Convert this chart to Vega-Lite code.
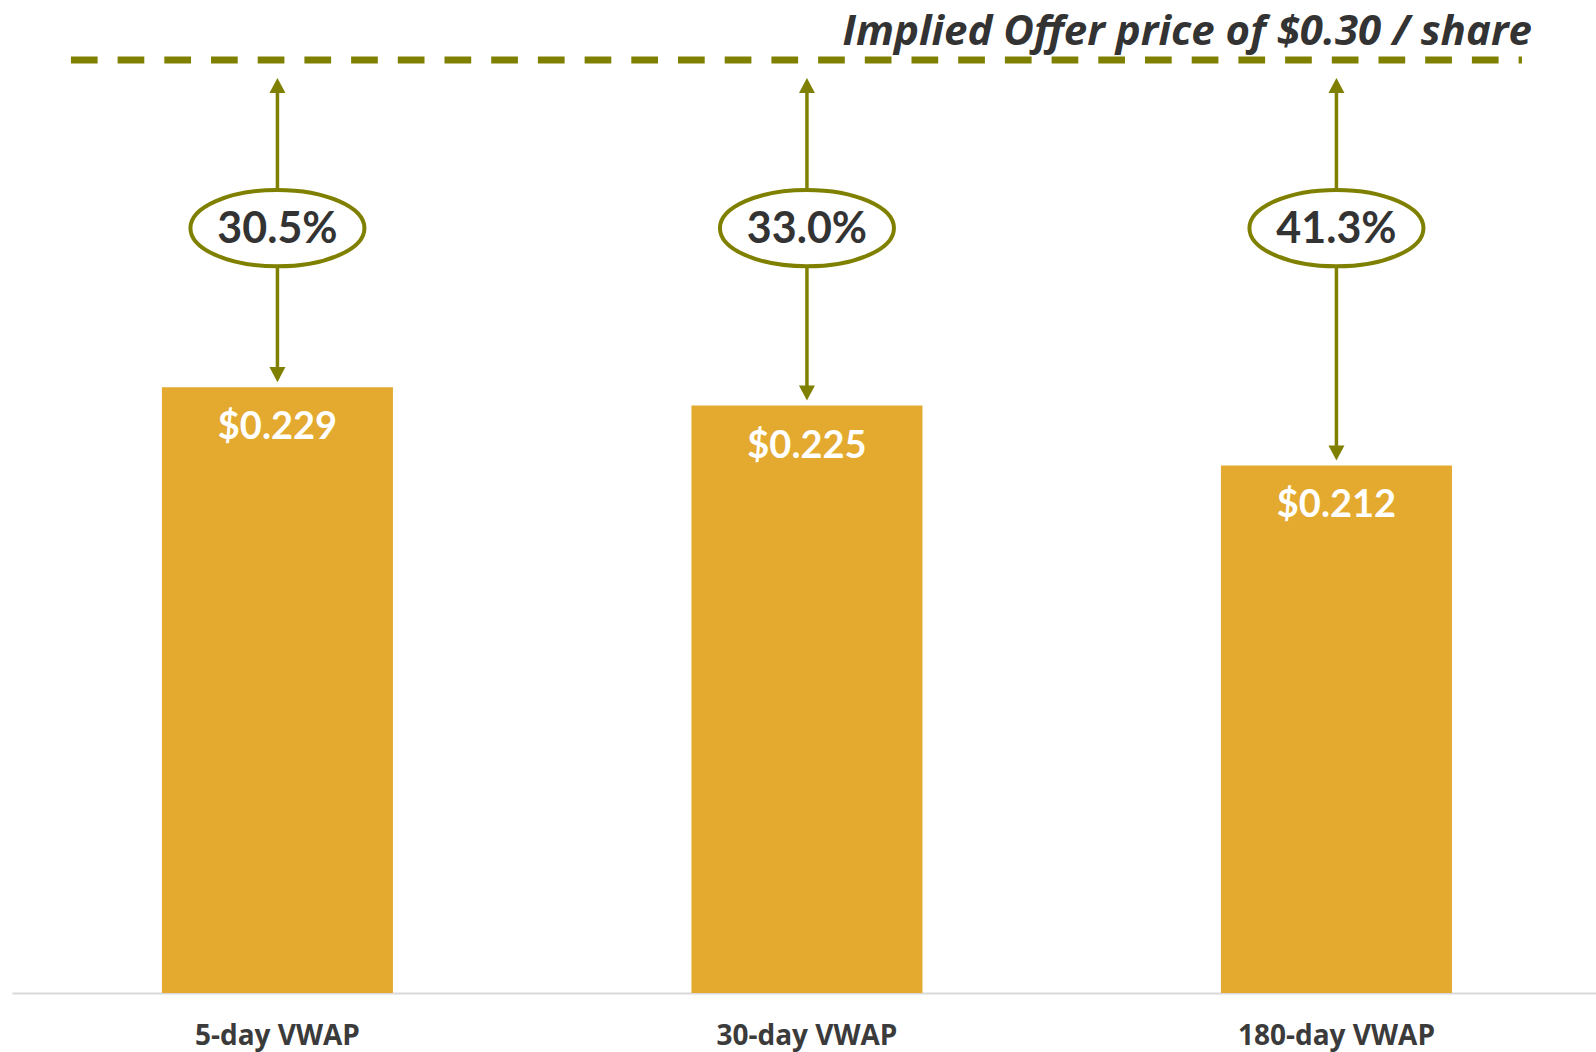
{
  "$schema": "https://vega.github.io/schema/vega-lite/v6.json",
  "width": 1584,
  "height": 933,
  "autosize": {"type": "none"},
  "padding": {"left": 12, "top": 60, "right": 0, "bottom": 59},
  "background": "white",
  "config": {"view": {"stroke": null}, "font": "Lato"},
  "title": {
    "text": "Implied Offer price of $0.30 / share",
    "anchor": "end",
    "frame": "group",
    "font": "Open Sans",
    "fontSize": 42,
    "fontStyle": "italic",
    "fontWeight": "bold",
    "color": "#333333",
    "baseline": "alphabetic",
    "offset": 18,
    "dy": 48,
    "dx": -64
  },
  "data": {
    "values": [
      {"period": "5-day VWAP", "vwap": 0.229, "premium": 0.305, "offer": 0.30},
      {"period": "30-day VWAP", "vwap": 0.225, "premium": 0.330, "offer": 0.30},
      {"period": "180-day VWAP", "vwap": 0.212, "premium": 0.413, "offer": 0.30}
    ]
  },
  "layer": [
    {
      "mark": {"type": "bar", "color": "#E3AA2F"},
      "encoding": {
        "x": {
          "field": "period", "type": "nominal", "sort": null,
          "scale": {"paddingInner": 0.5637, "paddingOuter": 0.2776, "align": 0.51},
          "axis": {
            "title": null, "ticks": false, "domainColor": "#D9D9D9", "domainWidth": 2,
            "labelFont": "Open Sans", "labelFontSize": 28, "labelFontWeight": "bold", "labelColor": "#3B3B3B",
            "labelBaseline": "alphabetic", "labelPadding": 51, "labelAngle": 0, "labelLimit": 0
          }
        },
        "y": {
          "field": "vwap", "type": "quantitative",
          "scale": {"domain": [0.0975, 0.30], "nice": false, "zero": false},
          "axis": null
        },
        "y2": {"datum": 0.0975}
      }
    },
    {
      "mark": {"type": "text", "color": "white", "font": "Lato", "fontSize": 38, "fontWeight": "bold", "baseline": "alphabetic", "align": "center", "dy": 52},
      "encoding": {
        "x": {"field": "period", "type": "nominal", "sort": null},
        "y": {"field": "vwap", "type": "quantitative"},
        "text": {"field": "vwap", "type": "quantitative", "format": "$.3f"}
      }
    },
    {
      "data": {"values": [{"offer": 0.30}]},
      "mark": {"type": "rule", "color": "#808000", "strokeWidth": 7, "strokeDash": [26.7, 20]},
      "encoding": {
        "x": {"datum": "5-day VWAP", "bandPosition": -0.394},
        "x2": {"datum": "180-day VWAP", "bandPosition": 1.303},
        "y": {"field": "offer", "type": "quantitative"}
      }
    },
    {
      "mark": {"type": "rule", "color": "#808000", "strokeWidth": 3.5, "yOffset": 26, "y2Offset": -12},
      "encoding": {
        "x": {"field": "period", "type": "nominal", "sort": null},
        "y": {"field": "offer", "type": "quantitative"},
        "y2": {"field": "vwap"}
      }
    },
    {
      "mark": {"type": "point", "shape": "M 0 0 L 0.5 0.94 L -0.5 0.94 Z", "size": 1024, "filled": true, "color": "#808000", "opacity": 1, "strokeWidth": 0, "yOffset": 18},
      "encoding": {
        "x": {"field": "period", "type": "nominal", "sort": null},
        "y": {"field": "offer", "type": "quantitative"}
      }
    },
    {
      "mark": {"type": "point", "shape": "M 0 0 L 0.5 -0.94 L -0.5 -0.94 Z", "size": 1024, "filled": true, "color": "#808000", "opacity": 1, "strokeWidth": 0, "yOffset": -5},
      "encoding": {
        "x": {"field": "period", "type": "nominal", "sort": null},
        "y": {"field": "vwap", "type": "quantitative"}
      }
    },
    {
      "mark": {"type": "point", "shape": "M -1 0 C -1 -0.2422 -0.5523 -0.4386 0 -0.4386 C 0.5523 -0.4386 1 -0.2422 1 0 C 1 0.2422 0.5523 0.4386 0 0.4386 C -0.5523 0.4386 -1 0.2422 -1 0 Z", "size": 30276, "filled": false, "fill": "white", "fillOpacity": 1, "stroke": "#808000", "strokeWidth": 4, "opacity": 1},
      "encoding": {
        "x": {"field": "period", "type": "nominal", "sort": null},
        "y": {"datum": 0.2635, "type": "quantitative"}
      }
    },
    {
      "mark": {"type": "text", "color": "#333333", "font": "Lato", "fontSize": 43, "fontWeight": "bold", "baseline": "alphabetic", "align": "center", "dy": 15},
      "encoding": {
        "x": {"field": "period", "type": "nominal", "sort": null},
        "y": {"datum": 0.2635, "type": "quantitative"},
        "text": {"field": "premium", "type": "quantitative", "format": ".1%"}
      }
    }
  ]
}
